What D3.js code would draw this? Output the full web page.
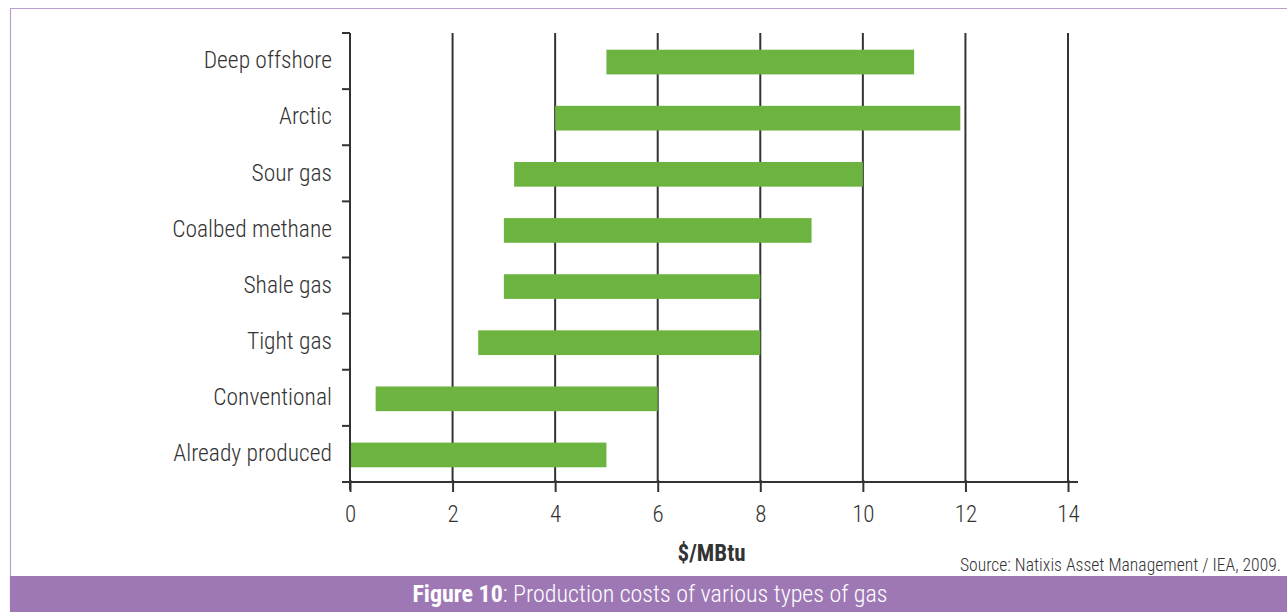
<!DOCTYPE html>
<html>
<head>
<meta charset="utf-8">
<script src="https://cdn.jsdelivr.net/npm/d3@7"></script>
<style>
  html, body { margin: 0; padding: 0; background: #fff; }
  svg { display: block; }
  .cond { font-family: "Roboto Condensed", "Liberation Sans Narrow", "Arial Narrow", "DejaVu Sans Condensed", sans-serif; font-weight: 300; }
</style>
</head>
<body>
<svg id="chart" width="1287" height="612"></svg>
<script>
// Gas types, top to bottom
const categories = ["Deep offshore", "Arctic", "Sour gas", "Coalbed methane", "Shale gas", "Tight gas", "Conventional", "Already produced"];
// Production cost range, $/MBtu
const costLow  = [5, 4, 3.2, 3, 3, 2.5, 0.5, 0];
const costHigh = [11, 11.9, 10, 9, 8, 8, 6, 5];
const xTicks = [0, 2, 4, 6, 8, 10, 12, 14];

const rows = categories.map((c, i) => ({ name: c, lo: costLow[i], hi: costHigh[i] }));

const W = 1287, H = 612;
const purple = "#9e78b5";
const green = "#6db33f";
const ink = "#333333";
const svg = d3.select("#chart");

// Frame
svg.append("path")
  .attr("d", `M10.5,${H} L10.5,8.5 L${W},8.5`)
  .attr("fill", "none").attr("stroke", "#b9a0cc").attr("stroke-width", 1.2);

const plotL = 350, plotR = 1068, plotT = 33, plotB = 482;

const x = d3.scaleLinear().domain([0, 14]).range([plotL, plotR]);
const y = d3.scaleBand().domain(categories).range([plotT, plotB]).paddingInner(0.56).paddingOuter(0.28);
const yEdge = d3.scaleLinear().domain([0, categories.length]).range([plotT, plotB]);

// Vertical grid lines
svg.append("g").selectAll("line").data(xTicks.slice(1)).join("line")
  .attr("x1", d => x(d)).attr("x2", d => x(d))
  .attr("y1", plotT).attr("y2", plotB)
  .attr("stroke", ink).attr("stroke-width", 2);

// Bars
svg.append("g").selectAll("rect").data(rows).join("rect")
  .attr("x", d => x(d.lo))
  .attr("width", d => x(d.hi) - x(d.lo))
  .attr("y", d => y(d.name) + 1)
  .attr("height", y.bandwidth())
  .attr("fill", green);

// Y axis line with band-boundary ticks
svg.append("line").attr("x1", plotL).attr("x2", plotL).attr("y1", plotT).attr("y2", plotB + 8)
  .attr("stroke", ink).attr("stroke-width", 2);
svg.append("g").selectAll("line").data(d3.range(categories.length + 1)).join("line")
  .attr("x1", plotL - 8).attr("x2", plotL)
  .attr("y1", d => yEdge(d)).attr("y2", d => yEdge(d))
  .attr("stroke", ink).attr("stroke-width", 2);

// X axis
const xAxis = d3.axisBottom(x).tickValues(xTicks).tickSize(10).tickPadding(14).tickFormat(d3.format("d"));
const gx = svg.append("g").attr("transform", `translate(0,${plotB})`).call(xAxis);
gx.select(".domain").remove();
gx.append("line").attr("x1", plotL - 8).attr("x2", plotR + 10).attr("y1", 0).attr("y2", 0)
  .attr("stroke", ink).attr("stroke-width", 2);
gx.selectAll(".tick line").attr("stroke", ink).attr("stroke-width", 2).attr("y1", -2);
gx.selectAll(".tick text").attr("class", "cond").attr("font-size", 23).attr("fill", ink).attr("font-family", null);

// Category labels
svg.append("g").selectAll("text").data(rows).join("text")
  .attr("class", "cond")
  .attr("x", 332)
  .attr("y", d => y(d.name) + y.bandwidth() / 2 - 1)
  .attr("dy", "0.35em")
  .attr("text-anchor", "end")
  .attr("font-size", 23.5)
  .attr("fill", ink)
  .text(d => d.name);

// Axis title
svg.append("text").attr("class", "cond")
  .attr("x", x(7.05)).attr("y", 561)
  .attr("text-anchor", "middle").attr("font-size", 23).style("font-weight", "bold").attr("fill", ink)
  .text("$/MBtu");

// Source
svg.append("text").attr("class", "cond")
  .attr("x", 1281).attr("y", 571)
  .attr("text-anchor", "end").attr("font-size", 17.6).attr("fill", ink)
  .text("Source: Natixis Asset Management / IEA, 2009.");

// Caption band
svg.append("rect").attr("x", 10).attr("y", 576).attr("width", W - 10).attr("height", H - 576).attr("fill", purple);
const cap = svg.append("text").attr("class", "cond")
  .attr("x", 650).attr("y", 602)
  .attr("text-anchor", "middle").attr("font-size", 24).attr("fill", "#fff");
cap.append("tspan").style("font-weight", "bold").text("Figure 10");
cap.append("tspan").text(": Production costs of various types of gas");
</script>
</body>
</html>
